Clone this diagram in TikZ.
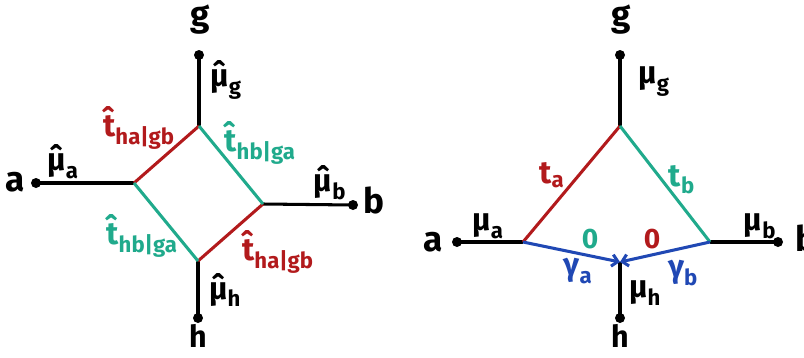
\documentclass[tikz,border=0pt]{standalone}
\usepackage{amsmath}
\usepackage{fontspec}
\setmainfont{Fira Sans}
\usetikzlibrary{arrows.meta}
\definecolor{myred}{RGB}{178,26,28}
\definecolor{myteal}{RGB}{32,170,140}
\definecolor{myblue}{RGB}{32,72,180}
\newcommand{\tx}[1]{\text{#1}}
\newcommand{\hh}[1]{\text{\^{#1}}}
\begin{document}
\begin{tikzpicture}[x=0.03cm,y=-0.03cm,
  edge/.style={line width=2.6pt},
  dot/.style={circle,fill=black,inner sep=0pt,minimum size=0.3cm},
  lab/.style={font=\fontsize{30}{34}\selectfont\bfseries,inner sep=0pt},
  hlab/.style={font=\fontsize{26}{30}\selectfont\bfseries,inner sep=0pt,anchor=base},
  mlab/.style={font=\fontsize{27}{30}\selectfont\bfseries,inner sep=0pt},
  zlab/.style={font=\fontsize{24}{28}\selectfont\bfseries,inner sep=0pt},
  tip/.style={-{Straight Barb[length=5pt,width=10pt]}}]
\useasboundingbox (0,0) rectangle (804,357);
% ---------- left diagram ----------
\node[dot] (gL) at (199,55) {};
\node[dot] (aL) at (36,183) {};
\node[dot] (bL) at (353,205) {};
\node[dot] (hL) at (198,318) {};
\coordinate (T) at (199,126);
\coordinate (L) at (134,183);
\coordinate (R) at (263,204);
\coordinate (B) at (198,261);
\draw[edge] (gL.center) -- (T);
\draw[edge] (aL.center) -- (L);
\draw[edge] (bL.center) -- (R);
\draw[edge] (hL.center) -- (B);
\draw[edge,myred] (L) -- (T);
\draw[edge,myred] (B) -- (R);
\draw[edge,myteal] (T) -- (R);
\draw[edge,myteal] (L) -- (B);
\node[lab] (lg) at (200,20) {g};
\node[lab] (la) at (15,182) {a};
\node[lab] (lb) at (374,200) {b};
\node[hlab] (lh) at (198,347) {h};
\node[mlab] (mg) at (226,80) {$\hh{μ}_{\tx{g}}$};
\node[mlab] (ma) at (63,162) {$\hh{μ}_{\tx{a}}$};
\node[mlab] (mb) at (330,183) {$\hh{μ}_{\tx{b}}$};
\node[mlab] (mh) at (225,290) {$\hh{μ}_{\tx{h}}$};
\node[mlab,myred] (t1) at (139,128) {$\hh{t}_{\tx{ha|gb}}$};
\node[mlab,myteal] (t2) at (260,143) {$\hh{t}_{\tx{hb|ga}}$};
\node[mlab,myteal] (t3) at (142,236) {$\hh{t}_{\tx{hb|ga}}$};
\node[mlab,myred] (t4) at (278,252) {$\hh{t}_{\tx{ha|gb}}$};
% ---------- right diagram ----------
\node[dot] (g2) at (620,55) {};
\node[dot] (a2) at (457,242) {};
\node[dot] (b2) at (778,242) {};
\node[dot] (h2) at (620,318) {};
\coordinate (T2) at (620,126);
\coordinate (L2) at (523,242);
\coordinate (R2) at (710,242);
\coordinate (H2) at (620,262);
\draw[edge] (g2.center) -- (T2);
\draw[edge] (a2.center) -- (L2);
\draw[edge] (b2.center) -- (R2);
\draw[edge] (h2.center) -- (H2);
\draw[edge,myred] (L2) -- (T2);
\draw[edge,myteal] (T2) -- (R2);
\draw[edge,myblue,tip] (L2) -- (H2);
\draw[edge,myblue,tip] (R2) -- (H2);
\node[lab] (lg2) at (621,20) {g};
\node[lab] (la2) at (433,242) {a};
\node[lab] (lb2) at (806,238) {b};
\node[hlab] (lh2) at (620,347) {h};
\node[mlab] (mg2) at (654,82) {$\tx{μ}_{\tx{g}}$};
\node[mlab] (ma2) at (488,226) {$\tx{μ}_{\tx{a}}$};
\node[mlab] (mb2) at (760,226) {$\tx{μ}_{\tx{b}}$};
\node[mlab] (mh2) at (645,293) {$\tx{μ}_{\tx{h}}$};
\node[mlab,myred] (ta) at (552,175) {$\tx{t}_{\tx{a}}$};
\node[mlab,myteal] (tb) at (682,180) {$\tx{t}_{\tx{b}}$};
\node[zlab,myteal] (z1) at (590,239) {0};
\node[zlab,myred] (z2) at (652,239) {0};
\node[mlab,myblue] (ga) at (578,271) {$\tx{γ}_{\tx{a}}$};
\node[mlab,myblue] (gb) at (683,273) {$\tx{γ}_{\tx{b}}$};
\end{tikzpicture}
\end{document}
